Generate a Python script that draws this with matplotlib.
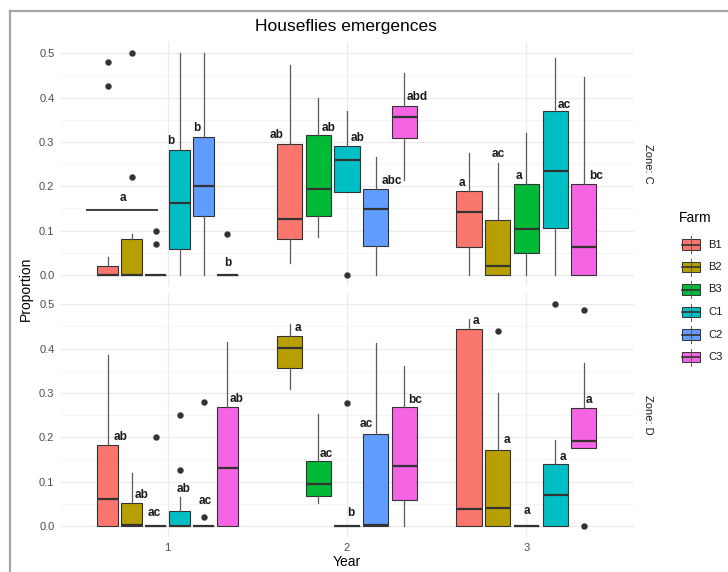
import matplotlib
matplotlib.use("Agg")
import matplotlib.pyplot as plt
from matplotlib.patches import Rectangle
from matplotlib.lines import Line2D

plt.rcParams["font.family"] = ["Liberation Sans", "DejaVu Sans"]

farms = ["B1", "B2", "B3", "C1", "C2", "C3"]
farm_colors = ["#F8766D", "#B79F00", "#00BA38", "#00BFC4", "#619CFF", "#F564E3"]
years = [1, 2, 3]

# (farm, whislo, q1, med, q3, whishi, outliers)
zone_c = {
    1: [("B1", 0, 0, 0, 0.02, 0.04, [0.48, 0.426]),
        ("B2", 0, 0, 0, 0.08, 0.092, [0.5, 0.22]),
        ("B3", 0, 0, 0, 0, 0, [0.1, 0.07]),
        ("C1", 0, 0.058, 0.163, 0.283, 0.5, []),
        ("C2", 0, 0.134, 0.2, 0.312, 0.5, []),
        ("C3", 0, 0, 0, 0, 0, [0.092])],
    2: [("B1", 0.026, 0.082, 0.126, 0.296, 0.474, []),
        ("B3", 0.086, 0.134, 0.195, 0.316, 0.399, []),
        ("C1", 0.187, 0.187, 0.26, 0.292, 0.371, [0.0]),
        ("C2", 0, 0.066, 0.148, 0.193, 0.266, []),
        ("C3", 0.214, 0.31, 0.357, 0.381, 0.455, [])],
    3: [("B1", 0, 0.064, 0.143, 0.19, 0.275, []),
        ("B2", 0, 0, 0.021, 0.124, 0.252, []),
        ("B3", 0, 0.049, 0.104, 0.205, 0.32, []),
        ("C1", 0, 0.107, 0.235, 0.369, 0.489, []),
        ("C3", 0, 0, 0.064, 0.205, 0.448, [])],
}
zone_d = {
    1: [("B1", 0, 0, 0.06, 0.183, 0.385, []),
        ("B2", 0, 0, 0.003, 0.053, 0.119, []),
        ("B3", 0, 0, 0, 0, 0, [0.2]),
        ("C1", 0, 0, 0, 0.034, 0.065, [0.251, 0.126]),
        ("C2", 0, 0, 0, 0, 0, [0.28, 0.021]),
        ("C3", 0, 0, 0.131, 0.269, 0.415, [])],
    2: [("B2", 0.31, 0.356, 0.402, 0.428, 0.455, []),
        ("B3", 0.051, 0.068, 0.095, 0.147, 0.253, []),
        ("C1", 0, 0, 0, 0, 0, [0.278]),
        ("C2", 0, 0, 0.002, 0.207, 0.413, []),
        ("C3", 0, 0.059, 0.135, 0.269, 0.361, [])],
    3: [("B1", 0, 0, 0.038, 0.445, 0.467, []),
        ("B2", 0, 0, 0.041, 0.171, 0.30, [0.44]),
        ("B3", 0, 0, 0, 0, 0, []),
        ("C1", 0, 0, 0.069, 0.14, 0.193, [0.5]),
        ("C3", 0.177, 0.177, 0.192, 0.267, 0.367, [0.487, 0.0])],
}

# significance letters: (text, x, y)
letters_c = [("a", 0.75, 0.174), ("b", 1.02, 0.302), ("b", 1.161, 0.332), ("b", 1.333, 0.027),
             ("ab", 1.609, 0.315), ("ab", 1.896, 0.332), ("ab", 2.057, 0.31),
             ("abc", 2.248, 0.211), ("abd", 2.393, 0.401),
             ("a", 2.641, 0.208), ("ac", 2.843, 0.274), ("a", 2.957, 0.224),
             ("ac", 3.209, 0.383), ("bc", 3.387, 0.224)]
letters_d = [("ab", 0.739, 0.201), ("ab", 0.857, 0.069), ("ac", 0.928, 0.030),
             ("ab", 1.089, 0.083), ("ac", 1.209, 0.057), ("ab", 1.385, 0.286),
             ("a", 1.728, 0.446), ("ac", 1.887, 0.162), ("b", 2.021, 0.029),
             ("ac", 2.106, 0.229), ("bc", 2.379, 0.284),
             ("a", 2.717, 0.463), ("a", 2.891, 0.195), ("a", 3.002, 0.034),
             ("a", 3.206, 0.156), ("a", 3.35, 0.284)]

# overall group line for year 1, zone C
group_line = (0.147, 0.544, 0.944)

W, H = 728, 572
fig = plt.figure(figsize=(W / 100, H / 100), dpi=100, facecolor="white")


def px_box(x0, y0, x1, y1):
    return [x0 / W, 1 - y1 / H, (x1 - x0) / W, (y1 - y0) / H]


ax_c = fig.add_axes(px_box(60, 42.4, 634, 286))
ax_d = fig.add_axes(px_box(60, 293.2, 634, 537.1))

edge = "#333333"
whisk = "#5A5A5A"
for ax, zone, letters, strip in [(ax_c, zone_c, letters_c, "Zone: C"),
                                 (ax_d, zone_d, letters_d, "Zone: D")]:
    ax.set_facecolor("white")
    for s in ax.spines.values():
        s.set_visible(False)
    ax.set_xlim(0.4, 3.6)
    ax.set_ylim(-0.025, 0.525)
    ax.set_yticks([0, 0.1, 0.2, 0.3, 0.4, 0.5])
    ax.set_yticks([0.05, 0.15, 0.25, 0.35, 0.45], minor=True)
    ax.set_xticks(years)
    ax.grid(True, which="major", color="#EBEBEB", lw=0.9, zorder=0)
    ax.grid(True, which="minor", axis="y", color="#F2F2F2", lw=0.5, zorder=0)
    ax.tick_params(length=0, labelsize=8, labelcolor="#4D4D4D", pad=4)
    ax.tick_params(which="minor", length=0)
    ax.set_axisbelow(True)

    for yr in years:
        boxes = zone[yr]
        n = len(boxes)
        step = 0.8 / n
        pos, stats, cols = [], [], []
        for i, (farm, lo, q1, med, q3, hi, out) in enumerate(boxes):
            pos.append(yr + (i - (n - 1) / 2) * step)
            stats.append(dict(whislo=lo, q1=q1, med=med, q3=q3, whishi=hi, fliers=out))
            cols.append(farm_colors[farms.index(farm)])
        bp = ax.bxp(stats, positions=pos, widths=0.7 / n, patch_artist=True,
                    showcaps=False, manage_ticks=False,
                    boxprops=dict(edgecolor=edge, lw=0.8),
                    whiskerprops=dict(color=whisk, lw=0.9),
                    medianprops=dict(color=edge, lw=1.6),
                    flierprops=dict(marker="o", markersize=3.6, markerfacecolor=edge,
                                    markeredgecolor=edge))
        for patch, c in zip(bp["boxes"], cols):
            patch.set_facecolor(c)
            patch.set_zorder(2)

    for txt, x, y in letters:
        ax.text(x, y, txt, ha="center", va="center", fontsize=8.5,
                fontweight="bold", color="#1A1A1A", zorder=5)

    ax.text(1.025, 0.5, strip, transform=ax.transAxes, rotation=-90,
            ha="center", va="center", fontsize=8, color="#1A1A1A")

ax_c.hlines(group_line[0], group_line[1], group_line[2], color="#333333", lw=1.3, zorder=3)
ax_c.tick_params(labelbottom=False)
ax_d.set_xticklabels([str(y) for y in years])
ax_d.set_xlabel("Year", fontsize=10, color="black", labelpad=2)

fig.text(346 / W, 1 - 27 / H, "Houseflies emergences", ha="center", va="center",
         fontsize=12.5, color="black")
fig.text(26 / W, 1 - 289 / H, "Proportion", ha="center", va="center",
         rotation=90, fontsize=10, color="black")

# overlay in pixel coordinates for the frame and legend
ov = fig.add_axes([0, 0, 1, 1], facecolor="none")
ov.set_xlim(0, W)
ov.set_ylim(H, 0)
ov.axis("off")
ov.add_line(Line2D([10, W], [11, 11], color="#A6A6A6", lw=1.6))
ov.add_line(Line2D([10, 10], [11, H], color="#A6A6A6", lw=1.6))

ov.text(679, 218, "Farm", ha="left", va="center", fontsize=10, color="black")
for i, (farm, c) in enumerate(zip(farms, farm_colors)):
    yc = 244.5 + i * 22.5
    ov.add_line(Line2D([691, 691], [yc - 8.5, yc + 8.5], color=whisk, lw=0.7))
    ov.add_patch(Rectangle((682, yc - 5.3), 18, 10.6, facecolor=c, edgecolor=edge, lw=0.7))
    ov.add_line(Line2D([682, 700], [yc, yc], color=edge, lw=1.2))
    ov.text(708, yc, farm, ha="left", va="center", fontsize=8, color="#1A1A1A")

fig.savefig("out.png", dpi=100, facecolor="white")
